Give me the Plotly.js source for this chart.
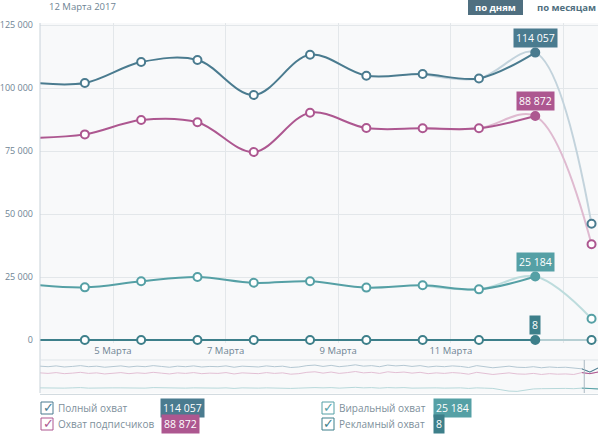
<!DOCTYPE html>
<html><head><meta charset="utf-8">
<script src="https://cdn.plot.ly/plotly-3.0.1.min.js"></script>
<style>html,body{margin:0;padding:0;background:#fff}#c{width:600px;height:434px}</style>
</head><body><div id="c"></div>
<script>
// ---- data ----
const dates = ['2017-03-03 12:00','2017-03-04 12:00','2017-03-05 12:00','2017-03-06 12:00','2017-03-07 12:00','2017-03-08 12:00','2017-03-09 12:00','2017-03-10 12:00','2017-03-11 12:00','2017-03-12 12:00','2017-03-13 12:00'];
const polnyi = [102300,102000,110300,111100,97200,113200,104900,105560,103800,114057,46100];
const podpis = [80200,81600,87300,86400,74600,90200,84100,84000,84000,88872,38000];
const viral  = [22200,20900,23300,25000,22700,23300,20800,21700,20100,25184,8450];
const reklam = [0,0,0,0,0,0,0,0,0,8,0];
const seriesNames = ['Полный охват','Охват подписчиков','Виральный охват','Рекламный охват'];
const badgeTexts = ['114 057','88 872','25 184','8'];
const tickDates = ['2017-03-05','2017-03-07','2017-03-09','2017-03-11','2017-03-13'];
const tickLabels = ['5 Марта','7 Марта','9 Марта','11 Марта',''];
const yTicks = [0,25000,50000,75000,100000,125000];
const headerDate = '12 Марта 2017';
// navigator history (thousands)
const navTotal = [102,100,103,99,101,104,100,102,98,101,103,99,102,100,104,101,98,102,100,103,99,101,100,103,98,102,101,99,103,100,102,97,99,104,106,101,105,100,103,107,102,104,100,106,103,105,101,104,99,102,100,103,101,97,104,100,96,99,102,98,97,100,96,99,97,98,96,92,80,95];
const navSub   = [77,75,78,74,76,79,75,77,73,76,78,74,77,75,79,76,73,77,75,78,74,76,75,78,73,77,76,74,78,75,77,72,74,79,81,76,80,75,78,82,77,79,75,81,78,80,76,79,74,77,75,78,76,72,79,75,71,74,77,73,72,75,71,74,72,73,71,78,74,80];
const navViral = [21,20,21,20,21,22,20,21,20,21,21,20,21,20,22,21,20,21,20,21,20,21,20,21,19,21,20,20,21,20,21,19,20,22,22,21,22,20,21,23,21,22,20,22,21,22,20,21,20,21,20,21,21,19,21,20,19,14,9,8,12,17,18,19,18,19,18,20,19,17];

// ---- styles ----
const colors = ['#4a7b8f','#ad5790','#55a0a5','#3d7f8a'];
const faded  = ['#c3d3dc','#dfbad0','#bddcdd','#b6cfd3'];
const navColors = ['#b4c7d2','#e2bfd4','#b7d8da'];
const W=600,H=434,ML=40,MR=2;
const px = x => (x-ML)/(W-ML-MR);
const py = y => 1-y/H;

const all = [polnyi,podpis,viral,reklam];
const traces = [];
all.forEach((vals,i)=>{
  traces.push({x:dates.slice(7), y:vals.slice(7), mode:'lines', line:{color:faded[i],width:2,shape:'spline',smoothing:1}, xaxis:'x', yaxis:'y', cliponaxis:false});
});
all.forEach((vals,i)=>{
  traces.push({x:dates.slice(0,10), y:vals.slice(0,10), mode:'lines', line:{color:colors[i],width:2,shape:'spline',smoothing:1}, xaxis:'x', yaxis:'y'});
});
all.forEach((vals,i)=>{
  const fill = dates.map((d,k)=> k===9 ? colors[i] : '#ffffff');
  traces.push({x:dates.slice(1), y:vals.slice(1), mode:'markers', marker:{size:8,color:fill.slice(1),line:{color:colors[i],width:2}}, xaxis:'x', yaxis:'y', cliponaxis:false});
});
[navTotal,navSub,navViral].forEach((vals,i)=>{
  traces.push({y:vals, mode:'lines', line:{color:navColors[i],width:1}, xaxis:'x2', yaxis:'y2'});
});
[navTotal,navSub,navViral].forEach((vals,i)=>{
  traces.push({x:[67,68,69], y:vals.slice(67), mode:'lines', line:{color:colors[i],width:1}, xaxis:'x2', yaxis:'y2'});
});

const annotations = [
  {text:headerDate, xref:'paper', yref:'paper', x:px(47), y:py(7), xanchor:'left', yanchor:'middle', showarrow:false, font:{size:9.5,color:'#6e8494'}},
  {text:'<b>по дням</b>', xref:'paper', yref:'paper', x:px(495.5), y:py(7.5), xanchor:'center', yanchor:'middle', showarrow:false, font:{size:9.5,color:'#ffffff'}},
  {text:'<b>по месяцам</b>', xref:'paper', yref:'paper', x:px(566), y:py(7.5), xanchor:'center', yanchor:'middle', showarrow:false, font:{size:9.5,color:'#4f6f80'}},
];
all.forEach((vals,i)=>{
  annotations.push({text:badgeTexts[i], xref:'x', yref:'y', x:dates[9], y:vals[9], yshift:15, xanchor:'center', yanchor:'middle', showarrow:false, bgcolor:colors[i], borderpad:2, font:{size:10.5,color:'#ffffff'}});
});
const shapes = [
  {type:'rect', xref:'paper', yref:'paper', x0:0, x1:1, y0:py(360), y1:py(343), fillcolor:'#f8f9fa', line:{width:0}, layer:'below'},
  {type:'line', xref:'paper', yref:'paper', x0:0, x1:0, y0:py(393), y1:py(23), line:{color:'#c8d2d9',width:1}},
  {type:'line', xref:'paper', yref:'paper', x0:0, x1:1, y0:py(360), y1:py(360), line:{color:'#dfe5e9',width:1}},
  {type:'line', xref:'x2', yref:'paper', x0:67.3, x1:67.3, y0:py(393), y1:py(360), line:{color:'#a9b8c2',width:1}},
  {type:'rect', xref:'paper', yref:'paper', x0:px(468), x1:px(523), y0:py(15), y1:py(0), fillcolor:'#4f6f80', line:{width:0}},
];
// legend
const legPos = [[41,408],[41,424],[322,408],[322,424]];
const badgeX = [160,161,433,433];
legPos.forEach(([lx,ly],i)=>{
  shapes.push({type:'rect', xref:'paper', yref:'paper', x0:px(lx), x1:px(lx+12), y0:py(ly+6), y1:py(ly-6), line:{color:colors[i],width:1}, fillcolor:'#ffffff'});
  annotations.push({text:'✓', xref:'paper', yref:'paper', x:px(lx+7), y:py(ly-1), xanchor:'center', yanchor:'middle', showarrow:false, font:{size:13,color:colors[i],family:'DejaVu Sans'}});
  annotations.push({text:seriesNames[i], xref:'paper', yref:'paper', x:px(lx+15), y:py(ly), xanchor:'left', yanchor:'middle', showarrow:false, font:{size:10,color:'#7d8f9b'}});
  annotations.push({text:badgeTexts[i], xref:'paper', yref:'paper', x:px(badgeX[i]), y:py(ly), xanchor:'left', yanchor:'middle', showarrow:false, bgcolor:colors[i], borderpad:2, font:{size:10.5,color:'#ffffff'}});
});

const layout = {
  width:600, height:434, margin:{l:ML,r:MR,t:0,b:0},
  paper_bgcolor:'#ffffff', plot_bgcolor:'#f8f9fa', showlegend:false, hovermode:false, separators:', ',
  font:{family:'Open Sans, sans-serif', size:10, color:'#6e8494'},
  xaxis:{type:'date', range:['2017-03-03 16:53','2017-03-13 14:45'], domain:[0,1], anchor:'y', tickvals:tickDates, ticktext:tickLabels, showgrid:true, gridcolor:'#e3e7ea', zeroline:false, showline:false, ticks:'', tickfont:{size:9.5,color:'#6e8494'}},
  yaxis:{domain:[py(343),py(23)], range:[-1190,125800], tickvals:yTicks, tickformat:',d', showgrid:true, gridcolor:'#e3e7ea', zeroline:false, showline:false, ticks:'', ticklabelstandoff:6, tickfont:{size:9,color:'#6e8494'}},
  xaxis2:{domain:[0,1], anchor:'y2', range:[0,69], showticklabels:false, showgrid:false, zeroline:false, showline:true, linecolor:'#d3dbe0', ticks:''},
  yaxis2:{domain:[py(393.5),py(360)], range:[0,125], showticklabels:false, showgrid:false, zeroline:false, ticks:''},
  shapes:shapes, annotations:annotations
};
Plotly.newPlot('c', traces, layout, {staticPlot:true, displayModeBar:false});
</script></body></html>
